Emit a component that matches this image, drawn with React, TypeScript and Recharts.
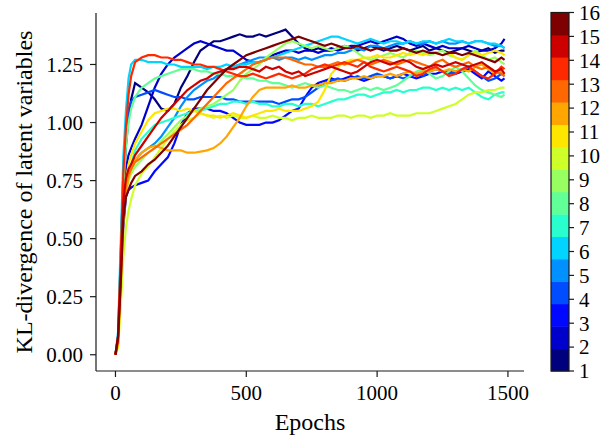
import React from 'react';
import { LineChart, Line, XAxis, YAxis } from 'recharts';

// epochs at which every run is sampled
const epochs = [
  0, 10, 20, 30, 40, 50, 60,
  75, 100, 125, 150, 175, 200, 225, 250, 275, 300,
  325, 350, 375, 400, 425, 450, 475, 500, 525, 550,
  575, 600, 625, 650, 675, 700, 725, 750, 775, 800,
  825, 850, 875, 900, 925, 950, 975, 1000, 1025, 1050,
  1075, 1100, 1125, 1150, 1175, 1200, 1225, 1250, 1275, 1300,
  1325, 1350, 1375, 1400, 1425, 1450, 1475, 1487,
];

// KL-divergence per latent variable (1..16)
const latent1 = [
  0, 0.07, 0.38, 0.7, 0.9, 1.02, 1.1,
  1.17, 1.15, 1.13, 1.1, 1.06, 1.05, 1.08, 1.15, 1.2, 1.26,
  1.31, 1.33, 1.35, 1.35, 1.36, 1.37, 1.38, 1.37, 1.37, 1.38,
  1.37, 1.38, 1.39, 1.4, 1.37, 1.34, 1.32, 1.31, 1.32, 1.31,
  1.31, 1.32, 1.33, 1.32, 1.31, 1.32, 1.33, 1.32, 1.31, 1.32,
  1.33, 1.32, 1.31, 1.32, 1.33, 1.31, 1.32, 1.31, 1.3, 1.31,
  1.32, 1.31, 1.3, 1.31, 1.32, 1.3, 1.31, 1.31,
];
const latent2 = [
  0, 0.06, 0.35, 0.62, 0.8, 0.86, 0.89,
  0.93, 0.99, 1.07, 1.15, 1.21, 1.25, 1.28, 1.3, 1.32, 1.34,
  1.35, 1.34, 1.33, 1.32, 1.31, 1.31, 1.29, 1.27, 1.26, 1.26,
  1.27, 1.29, 1.3, 1.31, 1.31, 1.3, 1.31, 1.31, 1.3, 1.31,
  1.32, 1.31, 1.32, 1.33, 1.33, 1.34, 1.35, 1.34, 1.35, 1.36,
  1.37, 1.36, 1.34, 1.33, 1.34, 1.33, 1.32, 1.33, 1.32, 1.32,
  1.32, 1.33, 1.32, 1.31, 1.31, 1.32, 1.34, 1.36,
];
const latent3 = [
  0, 0.05, 0.3, 0.55, 0.68, 0.71, 0.72,
  0.73, 0.74, 0.75, 0.79, 0.82, 0.85, 0.91, 0.99, 1.04, 1.06,
  1.06, 1.06, 1.05, 1.05, 1.04, 1.02, 1.0, 0.99, 0.99, 0.99,
  1.0, 1.0, 1.01, 1.03, 1.05, 1.06, 1.11, 1.15, 1.17, 1.18,
  1.19, 1.18, 1.19, 1.2, 1.19, 1.18, 1.19, 1.2, 1.2, 1.19,
  1.2, 1.21, 1.2, 1.19, 1.2, 1.21, 1.21, 1.22, 1.22, 1.21,
  1.22, 1.23, 1.21, 1.19, 1.22, 1.2, 1.18, 1.19,
];
const latent4 = [
  0, 0.08, 0.42, 0.78, 0.97, 1.06, 1.09,
  1.11, 1.12, 1.13, 1.14, 1.13, 1.12, 1.11, 1.11, 1.1, 1.1,
  1.11, 1.11, 1.11, 1.11, 1.1, 1.1, 1.09, 1.09, 1.09, 1.09,
  1.09, 1.09, 1.08, 1.09, 1.1, 1.1, 1.11, 1.13, 1.15, 1.17,
  1.18, 1.19, 1.18, 1.19, 1.2, 1.19, 1.2, 1.21, 1.2, 1.19,
  1.2, 1.19, 1.2, 1.21, 1.2, 1.22, 1.23, 1.22, 1.21, 1.22,
  1.23, 1.24, 1.22, 1.2, 1.18, 1.19, 1.21, 1.2,
];
const latent5 = [
  0, 0.06, 0.33, 0.6, 0.72, 0.78, 0.81,
  0.84, 0.87, 0.89, 0.91, 0.94, 0.98, 1.02, 1.07, 1.11, 1.14,
  1.16, 1.18, 1.19, 1.21, 1.23, 1.24, 1.25, 1.26, 1.27, 1.28,
  1.28, 1.28, 1.27, 1.28, 1.28, 1.27, 1.28, 1.27, 1.28, 1.29,
  1.29, 1.3, 1.3, 1.31, 1.32, 1.31, 1.33, 1.33, 1.32, 1.33,
  1.34, 1.34, 1.35, 1.34, 1.34, 1.35, 1.34, 1.35, 1.34, 1.34,
  1.35, 1.34, 1.35, 1.35, 1.34, 1.33, 1.33, 1.32,
];
const latent6 = [
  0, 0.1, 0.48, 0.85, 1.05, 1.19, 1.25,
  1.27, 1.27, 1.26, 1.26, 1.26, 1.25, 1.25, 1.24, 1.24, 1.24,
  1.24, 1.23, 1.24, 1.24, 1.25, 1.24, 1.25, 1.25, 1.26, 1.26,
  1.27, 1.28, 1.29, 1.3, 1.31, 1.32, 1.33, 1.34, 1.35, 1.36,
  1.37, 1.37, 1.36, 1.35, 1.34, 1.35, 1.36, 1.35, 1.34, 1.35,
  1.35, 1.34, 1.35, 1.34, 1.35, 1.35, 1.34, 1.35, 1.36, 1.35,
  1.35, 1.34, 1.35, 1.35, 1.34, 1.34, 1.33, 1.32,
];
const latent7 = [
  0, 0.06, 0.33, 0.6, 0.72, 0.78, 0.82,
  0.88, 0.93, 0.96, 0.99, 1.0, 1.01, 1.02, 1.03, 1.04, 1.05,
  1.05, 1.06, 1.07, 1.08, 1.08, 1.09, 1.09, 1.08, 1.09, 1.08,
  1.08, 1.07, 1.07, 1.08, 1.08, 1.07, 1.08, 1.08, 1.07, 1.08,
  1.09, 1.1, 1.1, 1.11, 1.12, 1.12, 1.11, 1.12, 1.13, 1.13,
  1.14, 1.13, 1.14, 1.14, 1.15, 1.15, 1.14, 1.15, 1.14, 1.15,
  1.14, 1.15, 1.13, 1.11, 1.1, 1.12, 1.13, 1.13,
];
const latent8 = [
  0, 0.07, 0.4, 0.72, 0.9, 1.0, 1.06,
  1.11, 1.15, 1.17, 1.19, 1.2, 1.21, 1.22, 1.23, 1.23, 1.23,
  1.22, 1.22, 1.21, 1.21, 1.2, 1.2, 1.2, 1.19, 1.19, 1.18,
  1.18, 1.17, 1.17, 1.16, 1.15, 1.16, 1.17, 1.16, 1.15, 1.16,
  1.15, 1.14, 1.14, 1.13, 1.14, 1.15, 1.14, 1.15, 1.14, 1.15,
  1.16, 1.18, 1.2, 1.22, 1.23, 1.21, 1.19, 1.2, 1.22, 1.24,
  1.22, 1.19, 1.16, 1.14, 1.13, 1.12, 1.11, 1.12,
];
const latent9 = [
  0, 0.05, 0.3, 0.58, 0.7, 0.75, 0.78,
  0.81, 0.84, 0.87, 0.89, 0.92, 0.95, 0.98, 1.01, 1.03, 1.05,
  1.06, 1.07, 1.08, 1.1, 1.12, 1.14, 1.18, 1.21, 1.23, 1.25,
  1.28, 1.3, 1.32, 1.34, 1.35, 1.34, 1.33, 1.32, 1.33, 1.32,
  1.31, 1.32, 1.33, 1.32, 1.3, 1.28, 1.27, 1.28, 1.29, 1.3,
  1.29, 1.28, 1.3, 1.31, 1.3, 1.29, 1.3, 1.31, 1.29, 1.28,
  1.27, 1.29, 1.31, 1.29, 1.27, 1.28, 1.26, 1.25,
];
const latent10 = [
  0, 0.03, 0.2, 0.42, 0.55, 0.62, 0.67,
  0.73, 0.78, 0.81, 0.85, 0.89, 0.93, 0.96, 0.99, 1.01, 1.02,
  1.04, 1.03, 1.02, 1.03, 1.02, 1.03, 1.02, 1.02, 1.03, 1.02,
  1.02, 1.03, 1.02, 1.02, 1.01, 1.02, 1.02, 1.03, 1.02, 1.02,
  1.02, 1.03, 1.03, 1.02, 1.03, 1.03, 1.02, 1.03, 1.03, 1.04,
  1.03, 1.03, 1.03, 1.04, 1.04, 1.04, 1.05, 1.06, 1.07, 1.08,
  1.1, 1.12, 1.13, 1.13, 1.14, 1.14, 1.15, 1.15,
];
const latent11 = [
  0, 0.05, 0.32, 0.62, 0.75, 0.82, 0.86,
  0.91, 0.96, 1.01, 1.04, 1.05, 1.06, 1.06, 1.05, 1.06, 1.05,
  1.04, 1.03, 1.03, 1.02, 1.03, 1.04, 1.03, 1.02, 1.03, 1.04,
  1.05, 1.05, 1.06, 1.05, 1.05, 1.05, 1.06, 1.07, 1.09, 1.14,
  1.21, 1.24, 1.26, 1.27, 1.27, 1.28, 1.28, 1.29, 1.28, 1.28,
  1.29, 1.3, 1.29, 1.3, 1.29, 1.3, 1.3, 1.29, 1.3, 1.28,
  1.27, 1.29, 1.3, 1.29, 1.3, 1.31, 1.3, 1.29,
];
const latent12 = [
  0, 0.05, 0.3, 0.58, 0.7, 0.76, 0.8,
  0.84, 0.87, 0.89, 0.9, 0.89, 0.88, 0.88, 0.88, 0.87, 0.87,
  0.875, 0.88, 0.89, 0.91, 0.94, 0.98, 1.02, 1.07, 1.11, 1.14,
  1.15, 1.15, 1.15, 1.15, 1.16, 1.15, 1.15, 1.16, 1.16, 1.17,
  1.17, 1.18, 1.18, 1.19, 1.19, 1.2, 1.19, 1.2, 1.2, 1.21,
  1.2, 1.21, 1.22, 1.21, 1.22, 1.22, 1.23, 1.22, 1.23, 1.22,
  1.23, 1.22, 1.24, 1.25, 1.23, 1.21, 1.22, 1.2,
];
const latent13 = [
  0, 0.06, 0.33, 0.62, 0.74, 0.78, 0.8,
  0.83, 0.85, 0.87, 0.89, 0.91, 0.93, 0.95, 0.97, 0.99, 1.02,
  1.05, 1.08, 1.11, 1.14, 1.17, 1.19, 1.21, 1.23, 1.25, 1.26,
  1.27, 1.28, 1.28, 1.28, 1.27, 1.26, 1.25, 1.25, 1.24, 1.24,
  1.25, 1.26, 1.25, 1.26, 1.27, 1.26, 1.25, 1.26, 1.27, 1.26,
  1.25, 1.26, 1.27, 1.26, 1.25, 1.24, 1.26, 1.27, 1.25, 1.24,
  1.25, 1.26, 1.24, 1.23, 1.24, 1.22, 1.21, 1.2,
];
const latent14 = [
  0, 0.08, 0.42, 0.78, 0.98, 1.12, 1.2,
  1.26, 1.28, 1.29, 1.29, 1.28, 1.28, 1.27, 1.27, 1.26, 1.25,
  1.25, 1.24, 1.24, 1.23, 1.22, 1.21, 1.2, 1.2, 1.21, 1.2,
  1.19, 1.2, 1.21, 1.2, 1.19, 1.2, 1.21, 1.23, 1.24, 1.25,
  1.24, 1.25, 1.26, 1.25, 1.24, 1.26, 1.24, 1.23, 1.22, 1.23,
  1.24, 1.23, 1.22, 1.2, 1.21, 1.23, 1.24, 1.22, 1.2, 1.21,
  1.23, 1.24, 1.22, 1.2, 1.19, 1.21, 1.24, 1.23,
];
const latent15 = [
  0, 0.07, 0.36, 0.66, 0.76, 0.8, 0.82,
  0.86, 0.9, 0.94, 0.98, 1.02, 1.05, 1.08, 1.11, 1.14, 1.16,
  1.18, 1.19, 1.21, 1.22, 1.23, 1.23, 1.24, 1.24, 1.23, 1.22,
  1.24, 1.23, 1.24, 1.22, 1.21, 1.22, 1.2, 1.21, 1.22, 1.23,
  1.24, 1.23, 1.22, 1.21, 1.22, 1.24, 1.26, 1.27, 1.26, 1.25,
  1.26, 1.27, 1.26, 1.24, 1.23, 1.24, 1.25, 1.24, 1.25, 1.26,
  1.25, 1.24, 1.25, 1.26, 1.24, 1.22, 1.23, 1.21,
];
const latent16 = [
  0, 0.08, 0.3, 0.58, 0.68, 0.71, 0.74,
  0.77, 0.79, 0.82, 0.84, 0.87, 0.9, 0.94, 0.98, 1.02, 1.06,
  1.1, 1.14, 1.17, 1.2, 1.23, 1.25, 1.27, 1.29, 1.3, 1.31,
  1.32, 1.33, 1.34, 1.35, 1.36, 1.37, 1.36, 1.35, 1.34, 1.33,
  1.34, 1.33, 1.32, 1.32, 1.33, 1.32, 1.31, 1.32, 1.32, 1.31,
  1.31, 1.32, 1.31, 1.3, 1.31, 1.3, 1.3, 1.29, 1.3, 1.3,
  1.29, 1.3, 1.29, 1.28, 1.27, 1.26, 1.28, 1.27,
];

const runs = [
  latent1, latent2, latent3, latent4, latent5, latent6, latent7, latent8,
  latent9, latent10, latent11, latent12, latent13, latent14, latent15, latent16,
];

// jet colormap sampled at 16 levels
const JET = [
  '#00007f', '#0000cd', '#0008ff', '#004dff', '#0091ff', '#00d4ff', '#29ffce', '#60ff97',
  '#97ff60', '#ceff29', '#ffe600', '#ffa700', '#ff6800', '#ff2900', '#cd0000', '#7f0000',
];

const xTicks = [0, 500, 1000, 1500];
const yTicks = [0, 0.25, 0.5, 0.75, 1.0, 1.25];
const colorbarLabels = ['1', '2', '3', '4', '5', '6', '7', '8', '9', '10', '11', '12', '13', '14', '15', '16'];

const data = epochs.map((epoch, i) => {
  const row: Record<string, number> = { epoch };
  runs.forEach((r, k) => {
    row[`z${k + 1}`] = r[i];
  });
  return row;
});

const FONT = "'Liberation Serif', 'Times New Roman', Times, serif";
const SPINE = '#1a1a1a';

// plot box in page pixels
const W = 616;
const H = 439;
const PLOT_TOP = 13;
const PLOT_LEFT = 96;
const PLOT_RIGHT = 524;
const PLOT_BOTTOM = 371;

// colorbar geometry
const CB_X = 551;
const CB_W = 18;
const CB_TOP = 12.5;
const CB_BOTTOM = 371;

const Colorbar = () => {
  const h = CB_BOTTOM - CB_TOP;
  const band = h / JET.length;
  const step = h / (colorbarLabels.length - 1);
  return (
    <g>
      {JET.map((c, i) => (
        <rect
          key={c}
          x={CB_X}
          y={CB_BOTTOM - (i + 1) * band}
          width={CB_W}
          height={band + 0.5}
          fill={c}
        />
      ))}
      <rect x={CB_X} y={CB_TOP} width={CB_W} height={h} fill="none" stroke={SPINE} strokeWidth={1.2} />
      {colorbarLabels.map((t, i) => {
        const y = CB_BOTTOM - i * step;
        return (
          <g key={t}>
            <line x1={CB_X + CB_W} x2={CB_X + CB_W + 5} y1={y} y2={y} stroke={SPINE} strokeWidth={1.2} />
            <text x={CB_X + CB_W + 10} y={y} dy="0.35em" fontSize={21} fontFamily={FONT} fill="#000">
              {t}
            </text>
          </g>
        );
      })}
    </g>
  );
};

export default function App() {
  const tickStyle = { fill: '#000', fontSize: 21, fontFamily: FONT };
  const lineStyle = { stroke: SPINE, strokeWidth: 1.2 };
  return (
    <div style={{ position: 'absolute', left: 0, top: 0, width: W, height: H, background: '#fff' }}>
      <LineChart
        width={W}
        height={H}
        data={data}
        margin={{ top: PLOT_TOP, right: W - PLOT_RIGHT, bottom: 0, left: 0 }}
      >
        <XAxis
          dataKey="epoch"
          type="number"
          domain={[-74.4, 1561.4]}
          allowDataOverflow
          ticks={xTicks}
          interval={0}
          height={H - PLOT_BOTTOM}
          tickSize={6}
          tickMargin={8}
          axisLine={lineStyle}
          tickLine={lineStyle}
          tick={tickStyle}
        />
        <XAxis
          xAxisId="top"
          orientation="top"
          type="number"
          domain={[0, 1]}
          height={0}
          tick={false}
          tickLine={false}
          axisLine={lineStyle}
        />
        <YAxis
          type="number"
          domain={[-0.07, 1.4717]}
          allowDataOverflow
          ticks={yTicks}
          interval={0}
          width={PLOT_LEFT}
          tickSize={6}
          tickMargin={7}
          axisLine={lineStyle}
          tickLine={lineStyle}
          tick={tickStyle}
          tickFormatter={(v: number) => v.toFixed(2)}
        />
        <YAxis
          yAxisId="right"
          orientation="right"
          type="number"
          domain={[0, 1]}
          width={0}
          tick={false}
          tickLine={false}
          axisLine={lineStyle}
        />
        {runs.map((_, k) => (
          <Line
            key={k}
            type="linear"
            dataKey={`z${k + 1}`}
            stroke={JET[k]}
            strokeWidth={2.2}
            dot={false}
            activeDot={false}
            isAnimationActive={false}
          />
        ))}
      </LineChart>
      <svg
        width={W}
        height={H}
        style={{ position: 'absolute', left: 0, top: 0, pointerEvents: 'none' }}
      >
        <text
          transform={`translate(32, ${(PLOT_TOP + PLOT_BOTTOM) / 2}) rotate(-90)`}
          textAnchor="middle"
          fontSize={24}
          fontFamily={FONT}
          fill="#000"
        >
          KL-divergence of latent variables
        </text>
        <text
          x={(PLOT_LEFT + PLOT_RIGHT) / 2}
          y={430}
          textAnchor="middle"
          fontSize={24}
          fontFamily={FONT}
          fill="#000"
        >
          Epochs
        </text>
        <Colorbar />
      </svg>
    </div>
  );
}
